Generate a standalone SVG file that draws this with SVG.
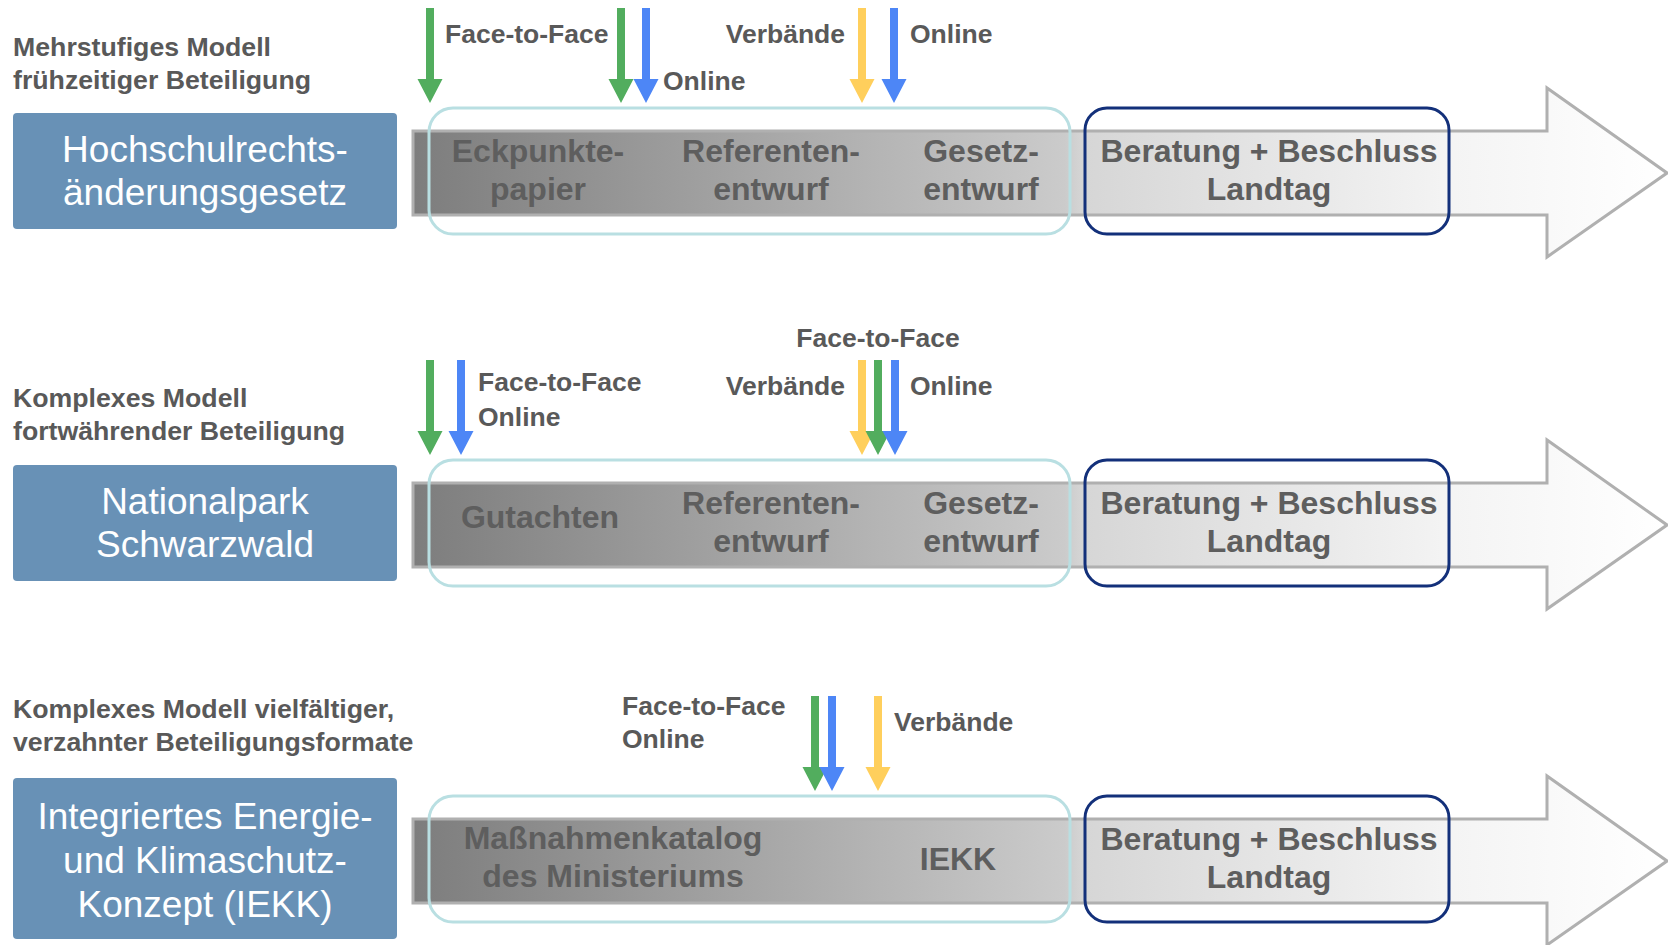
<svg xmlns="http://www.w3.org/2000/svg" xmlns:xlink="http://www.w3.org/1999/xlink" width="1668" height="945" viewBox="0 0 1668 945">
<style>
.lbl{font-family:"Liberation Sans",Arial,sans-serif;font-weight:bold;font-size:26.7px;fill:#595959}
.al{font-family:"Liberation Sans",Arial,sans-serif;font-weight:bold;font-size:26.5px;fill:#595959}
.bx{fill:#6891b6}
.bt{font-family:"Liberation Sans",Arial,sans-serif;font-size:37px;fill:#ffffff;text-anchor:middle}
.bar{fill:url(#g);stroke:#b0b0b0;stroke-width:3}
.st{font-family:"Liberation Sans",Arial,sans-serif;font-weight:bold;font-size:32px;fill:#5e5e5e;text-anchor:middle}
.teal{fill:none;stroke:#b9dfe2;stroke-width:3}
.navy{fill:none;stroke:#13307a;stroke-width:3}
.gr{fill:#52ad5e}
.bl{fill:#4d86f6}
.ye{fill:#ffcf5c}
</style>
<defs>
<linearGradient id="g" gradientUnits="userSpaceOnUse" x1="413" y1="0" x2="1667" y2="0">
<stop offset="0" stop-color="#7d7d7d"/>
<stop offset="0.52" stop-color="#cbcbcb"/>
<stop offset="0.535" stop-color="#d6d6d6"/>
<stop offset="0.83" stop-color="#f4f4f4"/>
<stop offset="1" stop-color="#ffffff"/>
</linearGradient>
<path id="dn" d="M-4,0 H4 V71 H12.5 L0,95 L-12.5,71 H-4 Z"/>
<path id="big" d="M413,131 H1547 V88 L1667,173 L1547,257 V215 H413 Z"/>
</defs>

<g id="row1">
<text class="lbl" x="13" y="56">Mehrstufiges Modell</text>
<text class="lbl" x="13" y="89">frühzeitiger Beteiligung</text>
<g id="node-hochschul">
<rect class="bx" x="13" y="113" width="384" height="116" rx="4"/>
<text class="bt" x="205" y="162">Hochschulrechts-</text>
<text class="bt" x="205" y="205">änderungsgesetz</text>
</g>
<g id="timeline1">
<use xlink:href="#big" class="bar"/>
<text class="st" x="538" y="162">Eckpunkte-</text>
<text class="st" x="538" y="200">papier</text>
<text class="st" x="771" y="162">Referenten-</text>
<text class="st" x="771" y="200">entwurf</text>
<text class="st" x="981" y="162">Gesetz-</text>
<text class="st" x="981" y="200">entwurf</text>
<text class="st" x="1269" y="162">Beratung + Beschluss</text>
<text class="st" x="1269" y="200">Landtag</text>
</g>
<rect id="phase1" class="teal" x="429" y="108" width="641" height="126" rx="24"/>
<rect id="landtag1" class="navy" x="1085" y="108" width="364" height="126" rx="22"/>
<text class="al" x="445" y="43">Face-to-Face</text>
<text class="al" x="663" y="90">Online</text>
<text class="al" x="845" y="43" text-anchor="end">Verbände</text>
<text class="al" x="910" y="43">Online</text>
</g>

<g id="row2">
<text class="lbl" x="13" y="407">Komplexes Modell</text>
<text class="lbl" x="13" y="440">fortwährender Beteiligung</text>
<g id="node-nationalpark">
<rect class="bx" x="13" y="465" width="384" height="116" rx="4"/>
<text class="bt" x="205" y="514">Nationalpark</text>
<text class="bt" x="205" y="557">Schwarzwald</text>
</g>
<g id="timeline2" transform="translate(0,352)">
<use xlink:href="#big" class="bar"/>
<text class="st" x="540" y="176">Gutachten</text>
<text class="st" x="771" y="162">Referenten-</text>
<text class="st" x="771" y="200">entwurf</text>
<text class="st" x="981" y="162">Gesetz-</text>
<text class="st" x="981" y="200">entwurf</text>
<text class="st" x="1269" y="162">Beratung + Beschluss</text>
<text class="st" x="1269" y="200">Landtag</text>
<rect class="teal" x="429" y="108" width="641" height="126" rx="24"/>
<rect class="navy" x="1085" y="108" width="364" height="126" rx="22"/>
</g>
<text class="al" x="478" y="391">Face-to-Face</text>
<text class="al" x="478" y="426">Online</text>
<text class="al" x="878" y="347" text-anchor="middle">Face-to-Face</text>
<text class="al" x="845" y="395" text-anchor="end">Verbände</text>
<text class="al" x="910" y="395">Online</text>
</g>

<g id="row3">
<text class="lbl" x="13" y="718">Komplexes Modell vielfältiger,</text>
<text class="lbl" x="13" y="751">verzahnter Beteiligungsformate</text>
<g id="node-iekk">
<rect class="bx" x="13" y="778" width="384" height="161" rx="4"/>
<text class="bt" x="205" y="829">Integriertes Energie-</text>
<text class="bt" x="205" y="873">und Klimaschutz-</text>
<text class="bt" x="205" y="917">Konzept (IEKK)</text>
</g>
<g id="timeline3" transform="translate(0,688)">
<use xlink:href="#big" class="bar"/>
<text class="st" x="613" y="161">Maßnahmenkatalog</text>
<text class="st" x="613" y="199">des Ministeriums</text>
<text class="st" x="958" y="182">IEKK</text>
<text class="st" x="1269" y="162">Beratung + Beschluss</text>
<text class="st" x="1269" y="200">Landtag</text>
<rect class="teal" x="429" y="108" width="641" height="126" rx="24"/>
<rect class="navy" x="1085" y="108" width="364" height="126" rx="22"/>
</g>
<text class="al" x="622" y="715">Face-to-Face</text>
<text class="al" x="622" y="748">Online</text>
<text class="al" x="894" y="731">Verbände</text>
</g>

<g id="connectors">
<use xlink:href="#dn" class="gr" x="430" y="8"/>
<use xlink:href="#dn" class="gr" x="621" y="8"/>
<use xlink:href="#dn" class="bl" x="646" y="8"/>
<use xlink:href="#dn" class="ye" x="862" y="8"/>
<use xlink:href="#dn" class="bl" x="894" y="8"/>
<use xlink:href="#dn" class="gr" x="430" y="360"/>
<use xlink:href="#dn" class="bl" x="461" y="360"/>
<use xlink:href="#dn" class="ye" x="862" y="360"/>
<use xlink:href="#dn" class="gr" x="878" y="360"/>
<use xlink:href="#dn" class="bl" x="895" y="360"/>
<use xlink:href="#dn" class="gr" x="815" y="696"/>
<use xlink:href="#dn" class="bl" x="832" y="696"/>
<use xlink:href="#dn" class="ye" x="878" y="696"/>
</g>
</svg>
